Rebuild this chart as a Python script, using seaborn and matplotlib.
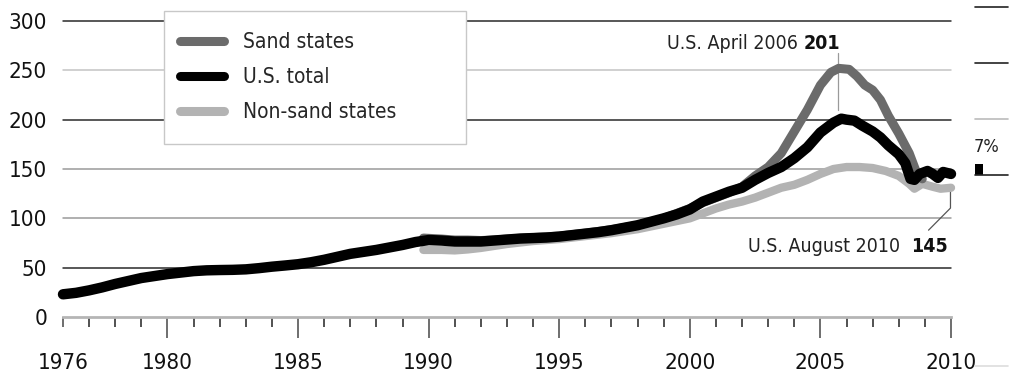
import matplotlib
matplotlib.use("Agg")
import matplotlib.pyplot as plt
from matplotlib.lines import Line2D
from matplotlib.patches import Rectangle
import seaborn as sns

# values (index, year fraction)
us_years = [1976.0, 1976.5, 1977.0, 1977.5, 1978.0, 1978.5, 1979.0, 1979.5, 1980.0, 1980.5,
            1981.0, 1981.5, 1982.0, 1982.5, 1983.0, 1983.5, 1984.0, 1984.5, 1985.0, 1985.5,
            1986.0, 1986.5, 1987.0, 1987.5, 1988.0, 1988.5, 1989.0, 1989.5, 1990.0, 1990.5,
            1991.0, 1991.5, 1992.0, 1992.5, 1993.0, 1993.5, 1994.0, 1994.5, 1995.0, 1995.5,
            1996.0, 1996.5, 1997.0, 1997.5, 1998.0, 1998.5, 1999.0, 1999.5, 2000.0, 2000.5,
            2001.0, 2001.5, 2002.0, 2002.5, 2003.0, 2003.5, 2004.0, 2004.5, 2005.0, 2005.5,
            2005.8, 2006.0, 2006.3, 2006.6, 2007.0, 2007.3, 2007.6, 2008.0, 2008.25, 2008.45,
            2008.6, 2008.8, 2009.1, 2009.3, 2009.5, 2009.7, 2010.0]
us_total = [23, 24.5, 27, 30, 33.5, 36.5, 39.5, 41.5, 43.5, 45,
            46.5, 47.3, 47.6, 47.8, 48.3, 49.5, 51, 52.2, 53.5, 55.5,
            58, 61, 64, 66, 68, 70.5, 73, 76, 78, 77.5,
            76.5, 76.5, 76.5, 77.5, 78.5, 79.5, 80, 80.5, 81.5, 83,
            84.5, 86, 88, 90.5, 93, 96.5, 100, 104, 109, 117,
            122, 127, 131, 139, 146, 152, 161, 172, 187, 197,
            201, 200, 199, 194, 188, 182, 174, 165, 156, 140,
            139, 145, 148, 145, 141, 147, 145]

sand_years = [1989.8, 1990.5, 1991.0, 1991.5, 1992.0, 1992.5, 1993.0, 1994.0, 1995.0, 1996.0,
              1997.0, 1998.0, 1999.0, 2000.0, 2000.5, 2001.0, 2001.5, 2002.0, 2002.5, 2003.0,
              2003.5, 2004.0, 2004.5, 2005.0, 2005.4, 2005.7, 2006.1, 2006.4, 2006.7, 2007.0,
              2007.3, 2007.6, 2008.0, 2008.4, 2008.7, 2008.9]
sand_states = [80, 79, 78, 78, 77.5, 78, 79, 80.5, 82, 85,
               88.5, 93, 100, 110, 116, 121, 126, 132, 143, 152,
               166, 188, 210, 235, 248, 252, 251, 244, 235, 230,
               220, 204, 186, 166, 145, 140]

nonsand_years = [1989.8, 1990.5, 1991.0, 1991.5, 1992.0, 1992.5, 1993.0, 1994.0, 1995.0, 1996.0,
                 1997.0, 1998.0, 1999.0, 2000.0, 2000.5, 2001.0, 2001.5, 2002.0, 2002.5, 2003.0,
                 2003.5, 2004.0, 2004.5, 2005.0, 2005.5, 2006.0, 2006.5, 2007.0, 2007.5, 2008.0,
                 2008.4, 2008.6, 2008.9, 2009.3, 2009.6, 2010.0]
nonsand_states = [68, 68, 67.5, 68.5, 70, 72, 74, 77, 79, 82,
                  85, 89, 94.5, 100, 105, 110, 114, 117, 121, 126,
                  131, 134, 139, 145, 150, 152, 152, 151, 148, 143,
                  135, 130, 135, 132, 130, 131]

grid_values = [50, 100, 150, 200, 250, 300]
grid_colors = ["#2a2a2a", "#9a9a9a", "#9a9a9a", "#2a2a2a", "#c4c4c4", "#2a2a2a"]
year_labels = [1976, 1980, 1985, 1990, 1995, 2000, 2005, 2010]

sns.set_theme(style="white")
plt.rcParams['font.family'] = ['DejaVu Sans']
plt.rcParams['font.stretch'] = 'condensed'

W, H = 1010, 373
fig = plt.figure(figsize=(W / 100, H / 100), dpi=100)
ax = fig.add_axes([63 / W, 56 / H, 888 / W, 296 / H])

for v, c in zip(grid_values, grid_colors):
    ax.axhline(v, color=c, lw=1.1, zorder=1)

sns.lineplot(x=nonsand_years, y=nonsand_states, ax=ax, color="#b3b3b3", lw=6,
             solid_capstyle="round", zorder=3)
sns.lineplot(x=sand_years, y=sand_states, ax=ax, color="#6b6b6b", lw=6.5,
             solid_capstyle="round", zorder=4)
sns.lineplot(x=us_years, y=us_total, ax=ax, color="black", lw=7.5,
             solid_capstyle="round", zorder=5)
for ln in ax.lines:
    ln.set_clip_on(False)

ax.set_xlim(1976, 2010)
ax.set_ylim(0, 300)
sns.despine(ax=ax, left=True, top=True, right=True)
ax.spines['bottom'].set_color("#b5b5b5")
ax.spines['bottom'].set_linewidth(2)

ax.set_yticks(grid_values[::-1] + [0])
ax.set_yticklabels([str(v) for v in grid_values[::-1] + [0]])
ax.tick_params(axis='y', length=0, pad=11.5, labelsize=16, labelcolor="#111111")

ax.set_xticks(year_labels)
ax.set_xticklabels([str(y) for y in year_labels])
ax.set_xticks(range(1976, 2011), minor=True)
ax.tick_params(axis='x', which='major', direction='out', length=15, width=1.2,
               color="#555555", pad=11, labelsize=16, labelcolor="#111111", bottom=True)
ax.tick_params(axis='x', which='minor', direction='out', length=7.5, width=1.2,
               color="#333333", bottom=True)
ax.xaxis.get_major_ticks()[0].tick1line.set_markersize(7.5)

# annotations
ax.plot([2005.69, 2005.69], [267.5, 209.7], color="#9a9a9a", lw=0.9, zorder=2, clip_on=False)
ax.text(2004.12, 277, "U.S. April 2006", ha="right", va="center", fontsize=14, color="#222222")
ax.text(2004.35, 277, "201", ha="left", va="center", fontsize=14, fontweight="bold", color="#111111")
ax.plot([2009.98, 2009.98, 2009.14], [131.7, 110.4, 88], color="#555555", lw=0.9, zorder=2,
        clip_on=False)
ax.text(2008.07, 71, "U.S. August 2010", ha="right", va="center", fontsize=14, color="#222222")
ax.text(2008.49, 71, "145", ha="left", va="center", fontsize=14, fontweight="bold", color="#111111")

# legend box
fig.add_artist(Rectangle((164 / W, 1 - 144 / H), 302 / W, 133 / H, transform=fig.transFigure,
                         facecolor="white", edgecolor="#c8c8c8", lw=1, zorder=10))
handles = [Line2D([], [], color="#6b6b6b", lw=6.5, solid_capstyle="round"),
           Line2D([], [], color="black", lw=6.5, solid_capstyle="round"),
           Line2D([], [], color="#b3b3b3", lw=6.5, solid_capstyle="round")]
leg = fig.legend(handles, ["Sand states", "U.S. total", "Non-sand states"], frameon=False,
                 loc="upper left", bbox_to_anchor=(170 / W, 1 - 22 / H), fontsize=15,
                 handlelength=2.1, handletextpad=0.9, labelspacing=0.72, borderpad=0)
leg.set_zorder(11)


# cropped neighbour panel at the right edge
def seg(x1, x2, y, color, lw=1.2):
    fig.add_artist(Line2D([x1 / W, x2 / W], [1 - y / H, 1 - y / H], transform=fig.transFigure,
                          color=color, lw=lw))


seg(975, 1008, 7, "#222222")
seg(975, 1008, 63, "#222222")
seg(975, 1008, 119, "#bbbbbb")
seg(975, 1008, 175, "#222222")
seg(975, 1008, 366, "#dddddd")
fig.add_artist(Rectangle((975 / W, 1 - 175 / H), 8 / W, 11 / H, transform=fig.transFigure,
                         facecolor="black", edgecolor="none"))
fig.text(974 / W, 1 - 147 / H, "7%", ha="left", va="center", fontsize=13, color="#222222")

fig.savefig("out.png", dpi=100)
